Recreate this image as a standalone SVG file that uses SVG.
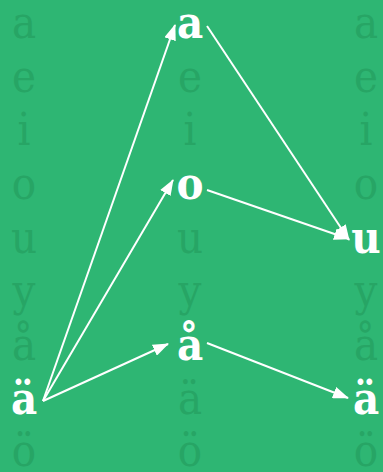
<svg xmlns="http://www.w3.org/2000/svg" width="383" height="472" viewBox="0 0 383 472">
<style>
.f{font-family:"DejaVu Serif","Liberation Serif",serif;font-stretch:condensed;font-size:45px;fill:#27a565;text-anchor:middle;font-weight:normal}
.b{font-family:"DejaVu Serif","Liberation Serif",serif;font-stretch:condensed;font-size:45px;fill:#fff;text-anchor:middle;font-weight:bold}
.c{stroke:#fff;stroke-width:2;fill:none;marker-end:url(#ah)}
</style>
<defs>
<marker id="ah" markerUnits="userSpaceOnUse" markerWidth="16" markerHeight="12" refX="15" refY="6" orient="auto" viewBox="0 0 16 12">
<path d="M0,0 L16,6 L0,12 z" fill="#fff"/>
</marker>
</defs>
<rect width="383" height="472" fill="#2eb673"/>
<g id="col-left">
<text class="f" x="24" y="38">a</text>
<text class="f" x="24" y="92">e</text>
<text class="f" x="24" y="145">i</text>
<text class="f" x="24" y="199">o</text>
<text class="f" x="24" y="253">u</text>
<text class="f" x="24" y="306">y</text>
<text class="f" x="24" y="360">å</text>
<text class="f" x="24" y="466">ö</text>
</g>
<g id="col-mid">
<text class="f" x="190" y="92">e</text>
<text class="f" x="190" y="145">i</text>
<text class="f" x="190" y="253">u</text>
<text class="f" x="190" y="306">y</text>
<text class="f" x="190" y="414">ä</text>
<text class="f" x="190" y="466">ö</text>
</g>
<g id="col-right">
<text class="f" x="366" y="38">a</text>
<text class="f" x="366" y="92">e</text>
<text class="f" x="366" y="145">i</text>
<text class="f" x="366" y="199">o</text>
<text class="f" x="366" y="306">y</text>
<text class="f" x="366" y="360">å</text>
<text class="f" x="366" y="466">ö</text>
</g>
<g id="node-a-left"><text class="b" x="24" y="414">ä</text></g>
<g id="node-a-mid"><text class="b" x="190" y="38">a</text></g>
<g id="node-o-mid"><text class="b" x="190" y="199">o</text></g>
<g id="node-aring-mid"><text class="b" x="190" y="360">å</text></g>
<g id="node-u-right"><text class="b" x="366" y="253">u</text></g>
<g id="node-auml-right"><text class="b" x="366" y="414">ä</text></g>
<g id="connectors">
<line class="c" x1="43" y1="401" x2="175" y2="25"/>
<line class="c" x1="43" y1="401" x2="173" y2="180"/>
<line class="c" x1="43" y1="401" x2="168" y2="344"/>
<line class="c" x1="207" y1="26" x2="349" y2="240"/>
<line class="c" x1="207" y1="190" x2="349" y2="239"/>
<line class="c" x1="207" y1="343" x2="348" y2="398"/>
</g>
</svg>
